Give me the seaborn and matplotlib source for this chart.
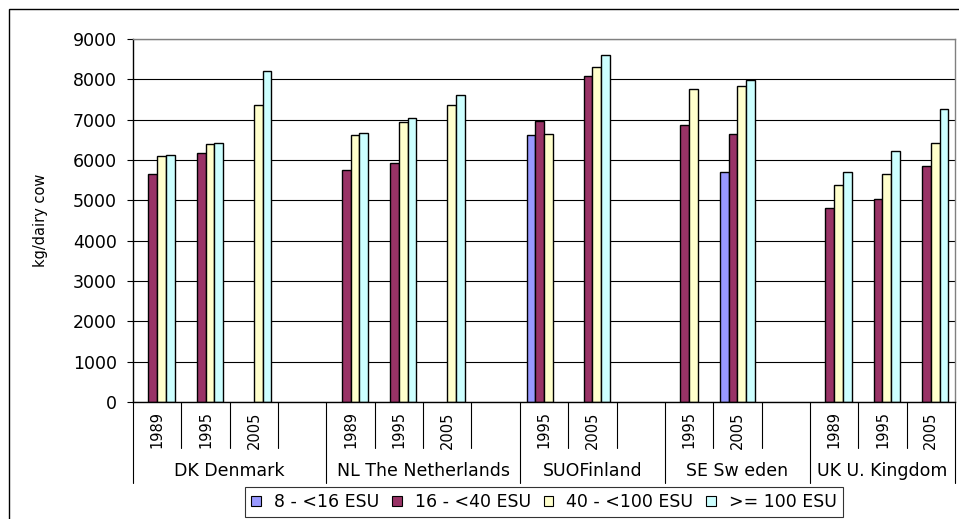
import numpy as np
import pandas as pd
import matplotlib
matplotlib.use('Agg')
import matplotlib.pyplot as plt
import matplotlib.transforms as mtransforms
from matplotlib.patches import Patch, Rectangle
import seaborn as sns

# Data (kg milk per dairy cow, by ESU size class)
countries = ['DK Denmark', 'NL The Netherlands', 'SUOFinland', 'SE Sw eden', 'UK U. Kingdom']
slots_per_country = [4, 4, 3, 3, 3]
slot_years = ['1989', '1995', '2005', '',
              '1989', '1995', '2005', '',
              '1995', '2005', '',
              '1995', '2005', '',
              '1989', '1995', '2005']

classes = ['8 - <16 ESU', '16 - <40 ESU', '40 - <100 ESU', '>= 100 ESU']
nan = np.nan
esu_8_16 = [nan, nan, nan, nan, nan, nan, nan, nan, 6610, nan, nan, nan, 5700, nan, nan, nan, nan]
esu_16_40 = [5660, 6170, nan, nan, 5760, 5920, nan, nan, 6970, 8090, nan, 6860, 6640, nan, 4820, 5040, 5850]
esu_40_100 = [6100, 6390, 7370, nan, 6610, 6940, 7370, nan, 6640, 8310, nan, 7770, 7840, nan, 5370, 5660, 6420]
esu_100 = [6130, 6420, 8210, nan, 6670, 7040, 7620, nan, nan, 8610, nan, nan, 7990, nan, 5700, 6230, 7260]

colors = ['#9999FF', '#993366', '#FFFFCC', '#CCFFFF']

# build a long table, one key per x slot (blank slots keep their room)
slot_keys = []
for c, n in zip(countries, slots_per_country):
    slot_keys += [f'{c}|{k}' for k in range(n)]

rows = []
for cls, vals in zip(classes, [esu_8_16, esu_16_40, esu_40_100, esu_100]):
    for key, v in zip(slot_keys, vals):
        if not np.isnan(v):
            rows.append({'slot': key, 'size': cls, 'kg': v})
df = pd.DataFrame(rows)

sns.set_style('white')
plt.rcParams['font.family'] = ['DejaVu Sans']
plt.rcParams['text.color'] = 'black'
plt.rcParams['axes.labelcolor'] = 'black'
plt.rcParams['ytick.color'] = 'black'

fig = plt.figure(figsize=(9.59, 5.19), dpi=100)
ax = fig.add_axes([133 / 959, 1 - 402 / 519, 822 / 959, 363 / 519])

sns.barplot(data=df, x='slot', y='kg', hue='size', order=slot_keys, hue_order=classes,
            palette=colors, width=0.72, errorbar=None, edgecolor='black', linewidth=1,
            saturation=1, legend=False, ax=ax)

ax.set_ylim(0, 9000)
ax.set_xlim(-0.5, len(slot_keys) - 0.5)
ax.set_yticks(range(0, 9001, 1000))
ax.yaxis.grid(True, color='black', linewidth=0.8)
ax.set_axisbelow(True)
ax.tick_params(axis='y', length=4.5, width=0.8, color='black', labelcolor='black',
               pad=7, labelsize=12.5, left=True)
ax.set_xticks([])
ax.set_xlabel('')
ax.set_ylabel('kg/dairy cow', fontsize=10.5, color='black')
ax.yaxis.set_label_coords(-85 / 822, 0.5)

for side in ['left', 'bottom']:
    ax.spines[side].set_color('black')
    ax.spines[side].set_linewidth(1)
for side in ['top', 'right']:
    ax.spines[side].set_color('#808080')
    ax.spines[side].set_linewidth(1)

# two-level category axis
trans = mtransforms.blended_transform_factory(ax.transData, ax.transAxes)
for i, yr in enumerate(slot_years):
    if yr:
        ax.text(i, -0.077, yr, transform=trans, rotation=90, ha='center', va='center',
                fontsize=10.5, color='black')

bounds = np.cumsum([0] + slots_per_country)
for b in range(len(slot_keys) + 1):
    depth = -0.223 if b in bounds else -0.127
    ax.plot([b - 0.5, b - 0.5], [0, depth], transform=trans, color='black',
            linewidth=0.8, clip_on=False)

for c, start, n in zip(countries, bounds[:-1], slots_per_country):
    ax.text(start + (n - 1) / 2, -0.19, c, transform=trans, ha='center', va='center',
            fontsize=12.5, color='black')

handles = [Patch(facecolor=col, edgecolor='black', linewidth=0.8) for col in colors]
leg = fig.legend(handles, classes, loc='center', bbox_to_anchor=(544 / 959, 1 - 502 / 519),
                 ncol=4, fontsize=12.5, frameon=True, fancybox=False, handlelength=0.55,
                 handleheight=0.55, handletextpad=0.75, columnspacing=0.75, borderpad=0.35,
                 borderaxespad=0)
leg.get_frame().set_edgecolor('black')
leg.get_frame().set_linewidth(0.8)

# outer chart border
fig.patches.append(Rectangle((9 / 959, -0.1), 1.2, 1.1 - 9 / 519, transform=fig.transFigure,
                             fill=False, edgecolor='black', linewidth=1))

fig.savefig('out.png', dpi=100)
